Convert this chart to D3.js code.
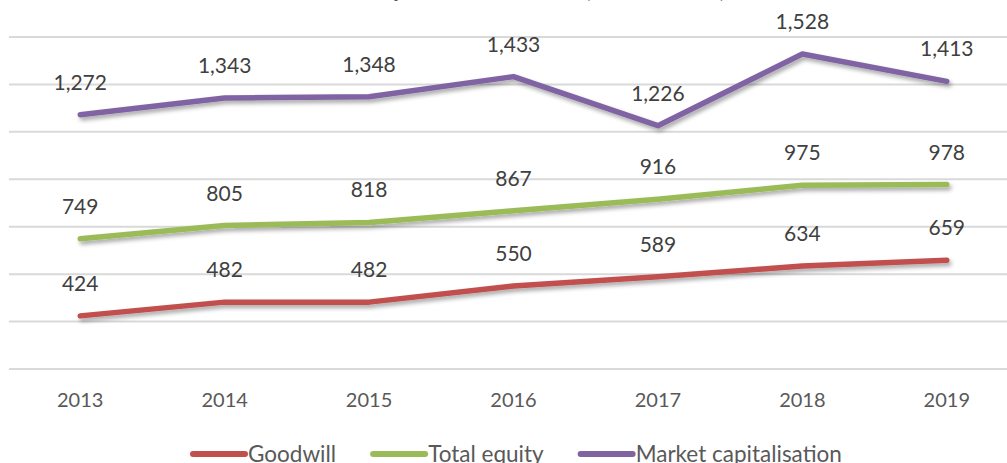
<!DOCTYPE html>
<html lang="en">
<head>
    <meta charset="UTF-8">
    <title>Goodwill chart</title>
    <script src="https://cdnjs.cloudflare.com/ajax/libs/d3/7.8.5/d3.min.js"></script>
    <style>
        body { margin: 0; background: #fff; }
        svg { display: block; font-family: Lato, "Open Sans", sans-serif; }
        .grid line { stroke: #D9D9D9; stroke-width: 2px; }
        .label { fill: #404040; font-size: 21px; text-anchor: middle; }
        .xaxis text { fill: #595959; font-size: 20px; }
        .legend text { fill: #595959; font-size: 22.5px; }
    </style>
</head>
<body>
<div id="chart"></div>
<script>
    var years = ["2013", "2014", "2015", "2016", "2017", "2018", "2019"];
    var goodwill = [424, 482, 482, 550, 589, 634, 659];
    var totalEquity = [749, 805, 818, 867, 916, 975, 978];
    var marketCap = [1272, 1343, 1348, 1433, 1226, 1528, 1413];
    var seriesNames = ["Goodwill", "Total equity", "Market capitalisation"];
    var yTicks = [200, 400, 600, 800, 1000, 1200, 1400, 1600];

    var w = 1007, h = 463;
    var colors = ["#C0504D", "#9BBB59", "#8064A2"];
    var seriesValues = [goodwill, totalEquity, marketCap];

    var svg = d3.select("#chart").append("svg")
        .attr("width", w)
        .attr("height", h);

    // soft shadow under the lines
    var defs = svg.append("defs");
    defs.append("filter").attr("id", "shadow")
        .attr("x", "-10%").attr("y", "-50%").attr("width", "120%").attr("height", "200%")
        .append("feDropShadow")
        .attr("dx", 2).attr("dy", 3).attr("stdDeviation", 2)
        .attr("flood-color", "#000").attr("flood-opacity", 0.35);

    var x = d3.scaleBand().domain(years).range([8, 1019]);
    var y = d3.scaleLinear().domain([200, 1600]).range([369, 37]);
    function cx(d) { return x(d) + x.bandwidth() / 2; }

    // title, almost all above the top edge (only descenders show)
    svg.append("text")
        .attr("x", 486).attr("y", -3)
        .attr("text-anchor", "middle")
        .style("font-size", "24px").style("font-weight", "bold")
        .style("fill", "#595959")
        .text("Goodwill comparison over time (EUR billions)");

    // gridlines
    svg.append("g").attr("class", "grid")
        .selectAll("line").data(yTicks).enter().append("line")
        .attr("x1", 9).attr("x2", w)
        .attr("y1", function(d) { return y(d); })
        .attr("y2", function(d) { return y(d); });

    // x axis labels
    var xAxis = svg.append("g").attr("class", "xaxis")
        .attr("transform", "translate(0,369)")
        .call(d3.axisBottom(x).tickSize(0).tickPadding(24));
    xAxis.select(".domain").remove();
    xAxis.selectAll("text").style("font-family", "Lato, sans-serif");

    var line = d3.line()
        .x(function(d, i) { return cx(years[i]); })
        .y(function(d) { return y(d); });

    var fmt = d3.format(",");

    seriesValues.forEach(function(vals, s) {
        svg.append("path")
            .datum(vals)
            .attr("d", line)
            .attr("fill", "none")
            .attr("stroke", colors[s])
            .attr("stroke-width", 5.5)
            .attr("stroke-linecap", "round")
            .attr("stroke-linejoin", "round")
            .attr("filter", "url(#shadow)");
    });

    seriesValues.forEach(function(vals, s) {
        svg.append("g").selectAll("text").data(vals).enter().append("text")
            .attr("class", "label")
            .attr("x", function(d, i) { return cx(years[i]); })
            .attr("y", function(d) { return y(d) - 25; })
            .text(function(d) { return fmt(d); });
    });

    // legend
    var legend = svg.append("g").attr("class", "legend");
    var lx = 190;
    seriesNames.forEach(function(name, s) {
        var g = legend.append("g").attr("transform", "translate(" + lx + ",0)");
        g.append("line")
            .attr("x1", 3).attr("x2", 55)
            .attr("y1", 454).attr("y2", 454)
            .attr("stroke", colors[s]).attr("stroke-width", 6)
            .attr("stroke-linecap", "round");
        var t = g.append("text").attr("x", 58).attr("y", 462).text(name);
        lx += 58 + t.node().getComputedTextLength() + 34;
    });
</script>
</body>
</html>
